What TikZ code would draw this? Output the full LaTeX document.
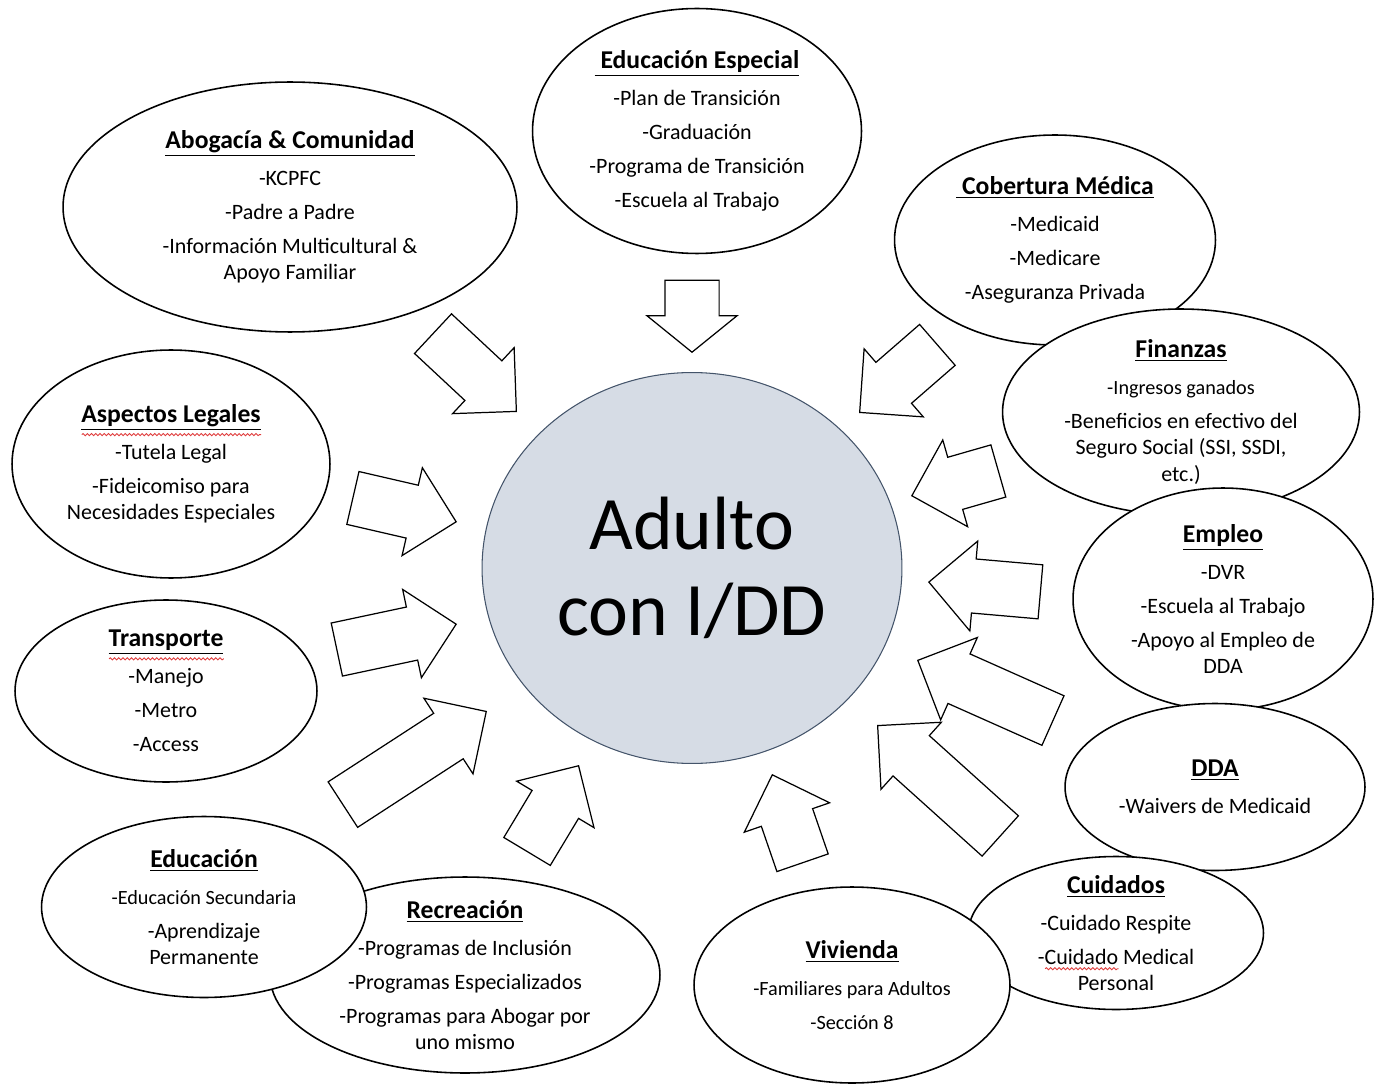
\documentclass[tikz,border=0pt]{standalone}
\usepackage{fontspec}
\setmainfont{Carlito}
\usetikzlibrary{shapes.geometric, shapes.arrows, decorations.pathmorphing}

\definecolor{azulgris}{HTML}{D6DCE5}
\definecolor{bordeazul}{HTML}{44546A}
\definecolor{rojoonda}{HTML}{E03C3C}

\tikzset{
  tema/.style={ellipse, draw=black, fill=white, line width=0.9pt, inner sep=0pt},
  texto/.style={align=center, font=\fontsize{12.5}{15}\selectfont, inner sep=0pt},
  flecha/.style={single arrow, draw=black, fill=white, line width=0.7pt, anchor=tip,
    inner xsep=0pt, inner ysep=0.53cm, minimum width=1.78cm, single arrow head extend=0.36cm},
  onda/.style={draw=rojoonda, line width=0.5pt, decorate,
    decoration={snake, amplitude=0.6pt, segment length=2.4pt}},
}
\newcommand{\titulo}[1]{\underline{\textbf{\fontsize{14.6}{17}\selectfont #1}}}
\newcommand{\chico}[1]{{\fontsize{11.5}{14}\selectfont #1}}
% subrayado rojo ondulado (corrector)
\newsavebox{\cajaonda}
\newcommand{\ondulado}[2][6.8]{\sbox{\cajaonda}{#2}%
  \rlap{\smash{\tikz[baseline=0pt, x=1pt, y=1pt]\draw[onda] (0pt,-#1pt) -- (\wd\cajaonda,-#1pt);}}%
  \usebox{\cajaonda}}

\begin{document}
\begin{tikzpicture}[x=0.02cm, y=-0.02cm]
  \useasboundingbox (0,0) rectangle (1379,1084);

  % Circulo central
  \node[ellipse, draw=bordeazul, fill=azulgris, line width=0.6pt,
        minimum width=8.4cm, minimum height=7.82cm] (adulto) at (692,568) {};

  % Elipses de los temas (el orden decide que elipse queda encima)
  \node[tema, minimum width=9.08cm, minimum height=5cm] (abogacia) at (290,207) {};
  \node[tema, minimum width=6.58cm, minimum height=4.9cm] (especial) at (697,131) {};
  \node[tema, minimum width=6.42cm, minimum height=4.2cm] (cobertura) at (1055,240) {};
  \node[tema, minimum width=7.14cm, minimum height=4.12cm] (finanzas) at (1181,412) {};
  \node[tema, minimum width=6cm, minimum height=4.44cm] (empleo) at (1223,599) {};
  \node[tema, minimum width=6cm, minimum height=3.34cm] (dda) at (1215,787) {};
  \node[tema, minimum width=5.9cm, minimum height=3.06cm] (cuidados) at (1116,933) {};
  \node[tema, minimum width=6.32cm, minimum height=3.92cm] (vivienda) at (852,985) {};
  \node[tema, minimum width=7.8cm, minimum height=3.92cm] (recreacion) at (465,975) {};
  \node[tema, minimum width=6.5cm, minimum height=3.62cm] (educacion) at (204,907) {};
  \node[tema, minimum width=6.04cm, minimum height=3.64cm] (transporte) at (166,691) {};
  \node[tema, minimum width=6.36cm, minimum height=4.56cm] (legales) at (171,464) {};

  % Flechas hacia el centro
  \node[flecha, rotate=-43, minimum height=2.28cm] (fA) at (517,412) {};
  \node[flecha, rotate=-90, minimum height=1.44cm, single arrow tip angle=102] (fB) at (692,353) {};
  \node[flecha, rotate=-139, minimum height=2.06cm] (fC) at (859,413) {};
  \node[flecha, rotate=-164, minimum height=1.8cm] (fD) at (911,496) {};
  \node[flecha, rotate=175, minimum height=2.24cm] (fE) at (928,582) {};
  \node[flecha, rotate=156, minimum height=2.96cm] (fF) at (917,660) {};
  \node[flecha, rotate=138, minimum height=3.3cm] (fG) at (877,725) {};
  \node[flecha, rotate=109, minimum height=1.86cm] (fH) at (772,774) {};
  \node[flecha, rotate=59, minimum height=2cm] (fI) at (579,765) {};
  \node[flecha, rotate=33, minimum height=3.42cm] (fJ) at (487,711) {};
  \node[flecha, rotate=12, minimum height=2.44cm] (fK) at (457,624) {};
  \node[flecha, rotate=-13, minimum height=2.12cm] (fL) at (457,522) {};

  % Textos
  \node[texto, font=\fontsize{43}{49}\selectfont] at (adulto) {Adulto\\con I/DD};
  \node[texto] at (abogacia) {\titulo{Abogacía \& Comunidad}\\[6pt]
    -KCPFC\\[4.3pt] -Padre a Padre\\[4.3pt] -Información Multicultural \&\\ Apoyo Familiar};
  \node[texto] at (especial) {\titulo{\ Educación Especial}\\[6pt]
    -Plan de Transición\\[4.3pt] -Graduación\\[4.3pt] -Programa de Transición\\[4.3pt] -Escuela al Trabajo};
  \node[texto] at (cobertura) {\titulo{\ Cobertura Médica}\\[6pt]
    -Medicaid\\[4.3pt] -Medicare\\[4.3pt] -Aseguranza Privada};
  \node[texto] at (finanzas) {\titulo{Finanzas}\\[6pt]
    \chico{-Ingresos ganados}\\[4.3pt] -Beneficios en efectivo del\\ Seguro Social (SSI, SSDI,\\ etc.)};
  \node[texto] at (empleo) {\titulo{Empleo}\\[6pt]
    -DVR\\[4.3pt] -Escuela al Trabajo\\[4.3pt] -Apoyo al Empleo de\\ DDA};
  \node[texto] at (dda) {\titulo{DDA}\\[6pt] -Waivers de Medicaid};
  \node[texto] at (cuidados) {\titulo{Cuidados}\\[6pt]
    -Cuidado Respite\\[4.3pt] -\ondulado[2.6]{Cuidado} Medical\\ Personal};
  \node[texto] at (vivienda) {\titulo{Vivienda}\\[6pt]
    \chico{-Familiares para Adultos}\\[4.3pt] \chico{-Sección 8}};
  \node[texto] at (recreacion) {\titulo{Recreación}\\[6pt]
    -Programas de Inclusión\\[4.3pt] -Programas Especializados\\[4.3pt] -Programas para Abogar por\\ uno mismo};
  \node[texto] at (educacion) {\titulo{Educación}\\[6pt]
    \chico{-Educación Secundaria}\\[4.3pt] -Aprendizaje\\ Permanente};
  \node[texto] at (transporte) {\titulo{\ondulado{Transporte}}\\[6pt]
    -Manejo\\[4.3pt] -Metro\\[4.3pt] -Access};
  \node[texto] at (legales) {\titulo{\ondulado{Aspectos Legales}}\\[6pt]
    -Tutela Legal\\[4.3pt] -Fideicomiso para\\ Necesidades Especiales};
\end{tikzpicture}
\end{document}
